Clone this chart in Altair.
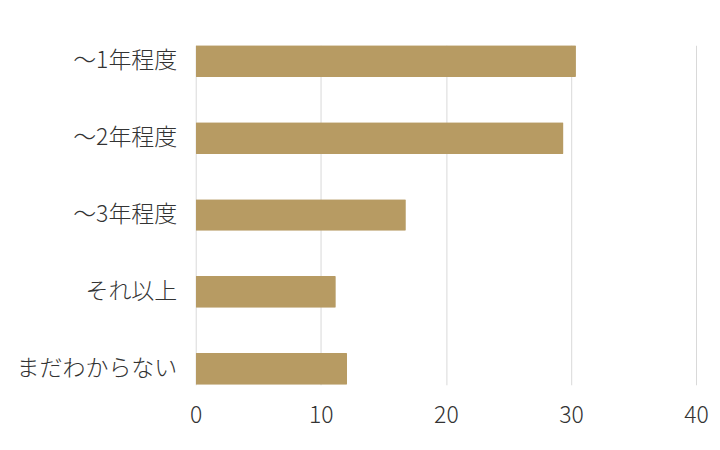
import altair as alt
import pandas as pd

categories = ["〜1年程度", "〜2年程度", "〜3年程度", "それ以上", "まだわからない"]
values = [30.4, 29.4, 16.8, 11.2, 12.1]

df = pd.DataFrame({"category": categories, "value": values})

font = "Noto Sans CJK JP"

chart = alt.Chart(df).mark_bar(color="#B79B63", cornerRadius=1).encode(
    x=alt.X("value:Q", scale=alt.Scale(domain=[0, 40], nice=False),
            axis=alt.Axis(values=[0, 10, 20, 30, 40], title=None, domain=False, ticks=False,
                          grid=True, gridColor="#d9d9d9", gridWidth=1,
                          labelFont=font, labelFontSize=23, labelColor="#333333",
                          labelFontWeight=300, labelFlush=False,
                          labelPadding=20)),
    y=alt.Y("category:N", sort=categories,
            scale=alt.Scale(paddingInner=0.588, paddingOuter=0),
            axis=alt.Axis(title=None, domain=False, ticks=False, grid=False,
                          labelFont=font, labelFontSize=23, labelColor="#333333",
                          labelFontWeight=300,
                          labelPadding=19, labelLimit=300)),
).properties(
    width=501, height=340,
    padding={"left": 188, "top": 37, "right": 16, "bottom": 56},
    autosize="none",
).configure_view(stroke=None)

chart.save("out.html", embed_options={"renderer": "svg", "actions": False})
